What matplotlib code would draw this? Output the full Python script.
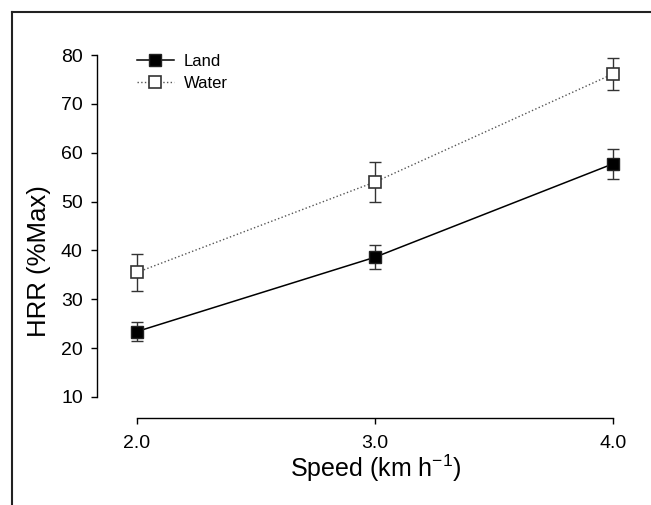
import matplotlib
matplotlib.use("Agg")
import matplotlib.pyplot as plt
from matplotlib.lines import Line2D

plt.rcParams['font.family'] = ['Liberation Sans', 'DejaVu Sans']

speed = [2.0, 3.0, 4.0]
land = [23.4, 38.6, 57.7]
land_err = [2.0, 2.5, 3.0]
water = [35.5, 54.0, 76.1]
water_err = [3.8, 4.0, 3.3]

fig = plt.figure(figsize=(6.51, 5.05), dpi=100)
ax = fig.add_axes([0.1485, 0.1723, 0.8192, 0.7386])

# error bars first, then lines + markers on top
ax.errorbar(speed, land, yerr=land_err, fmt='none', ecolor='#333333',
            elinewidth=1, capsize=4, capthick=1, zorder=2)
ax.errorbar(speed, water, yerr=water_err, fmt='none', ecolor='#333333',
            elinewidth=1, capsize=4, capthick=1, zorder=2)
ax.plot(speed, land, color='black', linewidth=1.1, marker='s', markersize=9,
        markerfacecolor='black', markeredgecolor='#222222', label='Land', zorder=3)
ax.plot(speed, water, color='#555555', linewidth=1.0, linestyle=':',
        marker='s', markersize=9, markerfacecolor='white',
        markeredgecolor='#333333', markeredgewidth=1.2, label='Water', zorder=3)

ax.set_xlim(1.8306, 4.0727)
ax.set_ylim(5.70, 82.05)
ax.set_xticks(speed)
ax.set_xticklabels(['2.0', '3.0', '4.0'])
ax.set_yticks([10, 20, 30, 40, 50, 60, 70, 80])

for s in ['top', 'right']:
    ax.spines[s].set_visible(False)
ax.spines['left'].set_bounds(10, 80)
ax.spines['bottom'].set_bounds(2, 4)
ax.spines['left'].set_linewidth(1.0)
ax.spines['bottom'].set_linewidth(1.0)
ax.tick_params(axis='y', direction='out', length=4, width=1, pad=6, labelsize=14)
ax.tick_params(axis='x', direction='out', length=4, width=1, pad=8, labelsize=14)

ax.set_ylabel('HRR (%Max)', fontsize=18.5, va='center')
ax.yaxis.set_label_coords(-0.108, 0.42)
ax.set_xlabel('Speed (km h$^{\\mathregular{-1}}$)', fontsize=18, va='center')
ax.xaxis.set_label_coords(0.524, -0.135)

leg = ax.legend(loc='upper left', bbox_to_anchor=(0.0756, 0.975), frameon=False,
                fontsize=12, handlelength=2.2, handletextpad=0.6,
                labelspacing=0.38, borderpad=0, borderaxespad=0)

# cropped frame of the original figure
fig.add_artist(Line2D([11.5 / 651, 11.5 / 651], [0, 1 - 12 / 505],
                      transform=fig.transFigure, color='#222222', linewidth=1.5))
fig.add_artist(Line2D([11.5 / 651, 1], [1 - 12 / 505, 1 - 12 / 505],
                      transform=fig.transFigure, color='#222222', linewidth=1.5))

fig.savefig('out.png', dpi=100)
